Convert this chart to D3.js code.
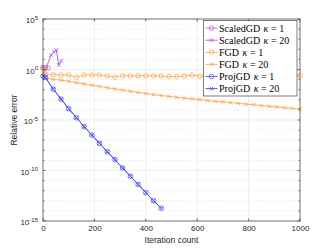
<!DOCTYPE html>
<html>
  <head>
    <meta charset="utf-8">
    <title>Relative error vs iteration count</title>
    <script src="https://d3js.org/d3.v7.min.js"></script>
    <style>
      body { margin: 0; background: #fff; }
      .tick text { font-family: "Liberation Sans", Arial, sans-serif; font-size: 8px; fill: #262626; }
      .legend text { font-family: "Liberation Serif", "DejaVu Serif", serif; font-size: 10px; fill: #000; }
    </style>
  </head>
  <body>
    <svg id="chart" width="332" height="249"></svg>
    <script>
      // data (y stored as log10 of the relative error)
      var xTicks = [0, 200, 400, 600, 800, 1000];
      var yTicks = [-15, -10, -5, 0, 5];

      var scaledIter1 = [0, 10, 20];
      var scaled1Log = [0.2, 0.18, 0.15];
      var scaledIter20 = [0, 7, 32, 43, 52, 61, 71];
      var scaled20Log = [0.15, -0.15, 1.44, 1.76, 1.93, 0.45, 0.87];

      var fgdIter = [0, 10, 40, 70, 100, 130, 160, 190, 220, 250, 280, 310, 340, 370, 400, 430, 460,
        490, 520, 550, 580, 610, 640, 670, 700, 730, 760, 790, 820, 850, 880, 910, 940, 970, 1000];
      var fgd1Log = [0.05, -0.45, -0.5, -0.55, -0.55, -0.75, -0.55, -0.55, -0.55, -0.65, -0.75, -0.62,
        -0.62, -0.62, -0.62, -0.62, -0.65, -0.7, -0.7, -0.65, -0.55, -0.65, -0.7, -0.6, -0.6, -0.6,
        -0.62, -0.6, -0.6, -0.6, -0.62, -0.6, -0.6, -0.6, -0.6];
      var fgd20Log = [0.05, -0.85, -0.97, -1.05, -1.17, -1.30, -1.42, -1.55, -1.67, -1.80, -1.92, -2.04,
        -2.16, -2.27, -2.38, -2.48, -2.58, -2.66, -2.74, -2.83, -2.91, -2.99, -3.07, -3.14, -3.21,
        -3.28, -3.35, -3.43, -3.50, -3.57, -3.64, -3.71, -3.78, -3.85, -3.91];

      var projIter = [0, 10, 40, 70, 100, 130, 160, 190, 220, 250, 280, 310, 340, 370, 400, 430, 460];
      var proj1Log = [-0.65, -0.8, -1.95, -2.93, -3.88, -4.78, -5.66, -6.49, -7.31, -8.14, -8.93, -9.75,
        -10.57, -11.37, -12.2, -12.99, -13.74];
      var proj20Log = [-0.65, -0.8, -1.95, -2.93, -3.88, -4.78, -5.66, -6.49, -7.31, -8.14, -8.93, -9.75,
        -10.57, -11.37, -12.2, -12.99, -13.74];

      var series = [
        { name: "ScaledGD", kappa: "1", x: scaledIter1, y: scaled1Log, color: "#c76ec9", marker: "o" },
        { name: "ScaledGD", kappa: "20", x: scaledIter20, y: scaled20Log, color: "#ad5cc4", marker: "x" },
        { name: "FGD", kappa: "1", x: fgdIter, y: fgd1Log, color: "#fcaa5c", marker: "o" },
        { name: "FGD", kappa: "20", x: fgdIter, y: fgd20Log, color: "#f9a450", marker: "x" },
        { name: "ProjGD", kappa: "1", x: projIter, y: proj1Log, color: "#5a5af5", marker: "o" },
        { name: "ProjGD", kappa: "20", x: projIter, y: proj20Log, color: "#3d46f2", marker: "x" }
      ];

      // layout
      var mLeft = 43, mRight = 300, mTop = 19, mBottom = 221;
      var svg = d3.select("#chart");
      var x = d3.scaleLinear().domain([0, 1000]).range([mLeft, mRight]);
      var y = d3.scaleLog().domain([1e-15, 1e5]).range([mBottom, mTop]);

      // grid
      var grid = svg.append("g");
      var decades = d3.range(-15, 6);
      grid.selectAll(".minor")
        .data(decades.filter(function(d) { return d % 5 !== 0; }))
        .enter().append("line")
          .attr("x1", mLeft).attr("x2", mRight)
          .attr("y1", function(d) { return y(Math.pow(10, d)); })
          .attr("y2", function(d) { return y(Math.pow(10, d)); })
          .attr("stroke", "#dcdcdc").attr("stroke-width", 0.6)
          .attr("stroke-dasharray", "1,1.5");
      grid.selectAll(".hmaj")
        .data(yTicks)
        .enter().append("line")
          .attr("x1", mLeft).attr("x2", mRight)
          .attr("y1", function(d) { return y(Math.pow(10, d)); })
          .attr("y2", function(d) { return y(Math.pow(10, d)); })
          .attr("stroke", "#e6e6e6").attr("stroke-width", 0.7);
      grid.selectAll(".vmaj")
        .data(xTicks)
        .enter().append("line")
          .attr("x1", function(d) { return x(d); }).attr("x2", function(d) { return x(d); })
          .attr("y1", mTop).attr("y2", mBottom)
          .attr("stroke", "#e6e6e6").attr("stroke-width", 0.7);

      // series
      var plot = svg.append("g");
      var line = d3.line()
        .x(function(d) { return x(d[0]); })
        .y(function(d) { return y(Math.pow(10, d[1])); });

      function drawMarker(g, type, cx, cy, color, r) {
        if (type === "o") {
          g.append("circle").attr("cx", cx).attr("cy", cy).attr("r", r)
            .attr("fill", "none").attr("stroke", color).attr("stroke-width", 0.8);
        } else {
          g.append("path")
            .attr("d", "M" + (cx - r) + "," + (cy - r) + "L" + (cx + r) + "," + (cy + r) +
              "M" + (cx - r) + "," + (cy + r) + "L" + (cx + r) + "," + (cy - r))
            .attr("stroke", color).attr("stroke-width", 0.8);
        }
      }

      series.forEach(function(s) {
        var pts = s.x.map(function(d, i) { return [d, s.y[i]]; });
        plot.append("path")
          .datum(pts)
          .attr("d", line)
          .attr("fill", "none")
          .attr("stroke", s.color)
          .attr("stroke-width", 0.9);
        var mg = plot.append("g");
        pts.forEach(function(p) {
          drawMarker(mg, s.marker, x(p[0]), y(Math.pow(10, p[1])), s.color, s.marker === "o" ? 2.3 : 1.9);
        });
      });

      // axes box
      var axisColor = "#262626";
      var xAxis = d3.axisBottom(x).tickValues(xTicks).tickSize(0).tickPadding(4).tickFormat(d3.format("d"));
      svg.append("g").attr("transform", "translate(0," + mBottom + ")").call(xAxis)
        .call(function(g) { g.select(".domain").remove(); });

      var yAxis = d3.axisLeft(y).tickValues(yTicks.map(function(d) { return Math.pow(10, d); }))
        .tickSize(0).tickPadding(5).tickFormat("");
      var yg = svg.append("g").attr("transform", "translate(" + mLeft + ",0)").call(yAxis);
      yg.select(".domain").remove();
      yg.selectAll(".tick").each(function(d) {
        var t = d3.select(this).select("text").text(null);
        t.append("tspan").text("10");
        t.append("tspan").attr("dy", -3.5).attr("font-size", "6px").text(Math.round(Math.log10(d)));
      });
      yg.selectAll(".tick text").attr("dy", "0.45em");

      svg.append("rect")
        .attr("x", mLeft).attr("y", mTop).attr("width", mRight - mLeft).attr("height", mBottom - mTop)
        .attr("fill", "none").attr("stroke", axisColor).attr("stroke-width", 0.6);

      // tick marks inside the box
      var ticks = svg.append("g").attr("stroke", axisColor).attr("stroke-width", 0.6);
      xTicks.forEach(function(d) {
        ticks.append("line").attr("x1", x(d)).attr("x2", x(d)).attr("y1", mBottom).attr("y2", mBottom - 2.6);
        ticks.append("line").attr("x1", x(d)).attr("x2", x(d)).attr("y1", mTop).attr("y2", mTop + 2.6);
      });
      decades.forEach(function(d) {
        var len = d % 5 === 0 ? 2.6 : 1.5;
        var yy = y(Math.pow(10, d));
        ticks.append("line").attr("x1", mLeft).attr("x2", mLeft + len).attr("y1", yy).attr("y2", yy);
        ticks.append("line").attr("x1", mRight).attr("x2", mRight - len).attr("y1", yy).attr("y2", yy);
      });

      // axis titles
      svg.append("text")
        .attr("x", (mLeft + mRight) / 2).attr("y", 243)
        .attr("text-anchor", "middle")
        .attr("font-family", "Liberation Sans, Arial, sans-serif").attr("font-size", "8.5px")
        .attr("fill", axisColor)
        .text("Iteration count");
      svg.append("text")
        .attr("transform", "translate(17," + ((mTop + mBottom) / 2) + ") rotate(-90)")
        .attr("text-anchor", "middle")
        .attr("font-family", "Liberation Sans, Arial, sans-serif").attr("font-size", "8.5px")
        .attr("fill", axisColor)
        .text("Relative error");

      // legend
      var lx = 203.5, ly = 20.5, lw = 93.5, lh = 75.5, rowH = 12.1;
      var legend = svg.append("g").attr("class", "legend");
      legend.append("rect")
        .attr("x", lx).attr("y", ly).attr("width", lw).attr("height", lh)
        .attr("fill", "#fff").attr("stroke", axisColor).attr("stroke-width", 0.6);
      series.forEach(function(s, i) {
        var cy = ly + 7.6 + rowH * i;
        legend.append("line")
          .attr("x1", lx + 2).attr("x2", lx + 14).attr("y1", cy).attr("y2", cy)
          .attr("stroke", s.color).attr("stroke-width", 0.9);
        drawMarker(legend, s.marker, lx + 8, cy, s.color, s.marker === "o" ? 2.3 : 1.9);
        var t = legend.append("text").attr("x", lx + 15.5).attr("y", cy + 3.4);
        t.append("tspan").text(s.name);
        t.append("tspan").attr("dx", 3.5).attr("font-style", "italic").text("\u03ba");
        t.append("tspan").attr("dx", 2.6).text("=");
        t.append("tspan").attr("dx", 2.6).text(s.kappa);
      });
    </script>
  </body>
</html>
